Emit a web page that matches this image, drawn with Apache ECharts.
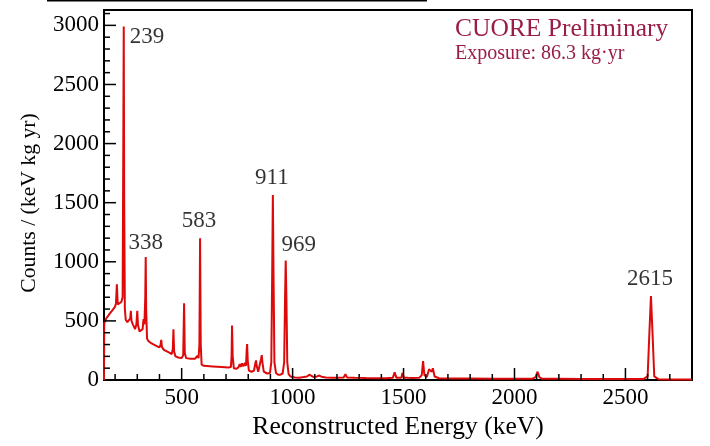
<!DOCTYPE html>
<html>
<head>
<meta charset="utf-8">
<script src="https://cdn.jsdelivr.net/npm/echarts@6/dist/echarts.min.js"></script>
<style>
  html, body { margin: 0; padding: 0; background: #ffffff; }
  #chart { width: 710px; height: 446px; background: #ffffff; }
</style>
</head>
<body>
<div id="chart"></div>
<script>
// Calibrated background spectrum: reconstructed energy (keV) and rate (counts / keV kg yr)
const energy = [
  150, 151, 160, 175, 190, 200, 204, 208, 212, 220, 228, 234, 237, 239, 241, 244, 248, 255, 262, 268,
  271, 274, 280, 290, 296, 300, 303, 310, 318, 324, 328, 332, 336, 338, 340, 344, 350, 360, 375, 390,
  400, 405, 408, 411, 420, 440, 455, 460, 463, 466, 472, 485, 500, 507, 511, 514, 520, 540, 560, 568,
  572, 576, 580, 583, 586, 590, 600, 640, 680, 710, 722, 725, 727, 730, 735, 745, 755, 762, 766, 772,
  778, 785, 790, 793, 795, 798, 803, 815, 826, 832, 835, 838, 845, 853, 858, 861, 864, 870, 885, 898,
  904, 908, 911, 914, 918, 925, 935, 945, 955, 962, 966, 969, 972, 976, 982, 990, 1000, 1010, 1030, 1050,
  1065, 1075, 1080, 1095, 1110, 1120, 1130, 1150, 1180, 1200, 1230, 1238, 1245, 1280, 1330, 1380, 1420, 1452, 1460, 1468,
  1490, 1495, 1502, 1520, 1540, 1570, 1582, 1588, 1594, 1605, 1615, 1621, 1627, 1632, 1640, 1660, 1700, 1800, 1900, 2000,
  2080, 2095, 2104, 2112, 2125, 2200, 2300, 2400, 2500, 2580, 2600, 2608, 2615, 2622, 2630, 2650, 2700, 2800
];
const counts = [
  0, 480, 520, 560, 595, 620, 650, 810, 640, 640, 660, 700, 2000, 2990, 1500, 600, 510, 490, 480, 520,
  585, 500, 470, 430, 470, 585, 470, 410, 400, 430, 515, 470, 700, 1040, 600, 350, 330, 315, 300, 285,
  275, 300, 340, 280, 255, 235, 220, 260, 430, 240, 200, 190, 185, 210, 650, 230, 185, 180, 180, 190,
  205, 185, 300, 1200, 300, 130, 120, 115, 110, 105, 110, 200, 460, 200, 100, 95, 105, 135, 110, 140,
  115, 145, 120, 250, 305, 160, 80, 70, 80, 140, 165, 120, 70, 85, 180, 210, 150, 70, 55, 60,
  150, 900, 1565, 900, 150, 60, 45, 45, 55, 150, 700, 1010, 700, 150, 50, 30, 25, 22, 20, 25,
  30, 45, 35, 25, 30, 38, 28, 22, 20, 20, 22, 48, 22, 18, 16, 15, 15, 20, 65, 18,
  18, 60, 20, 18, 16, 18, 40, 160, 40, 25, 90, 105, 70, 100, 30, 15, 12, 12, 11, 10,
  10, 25, 70, 25, 10, 10, 9, 9, 8, 8, 30, 400, 710, 400, 30, 6, 5, 5
];
// Labelled gamma lines (keV)
const peakLabels = [239, 338, 583, 911, 969, 2615];

const serif = '"Liberation Serif", "DejaVu Serif", serif';
const lineColor = '#dc0a0a';
const xMin = 150, xMax = 2800, yMin = 0, yMax = 3130;
const xMajorStep = 500, xMinorStep = 100, yMajorStep = 500, yMinorStep = 100;

const spectrum = energy.map((e, i) => [e, counts[i]]);

// Where each peak label sits relative to its peak top
const labelPlacement = {
  239: { position: 'right', distance: 6, offset: [0, 10] },
  338: { position: 'top', distance: 3, offset: [0, 0] },
  583: { position: 'top', distance: 6, offset: [-1, 0] },
  911: { position: 'top', distance: 6, offset: [-1, 0] },
  969: { position: 'top', distance: 4, offset: [13, 0] },
  2615: { position: 'top', distance: 6, offset: [-1, 0] }
};

const peakPoints = peakLabels.map(p => {
  const i = energy.indexOf(p);
  const place = labelPlacement[p];
  return {
    value: [energy[i], counts[i]],
    label: {
      show: true,
      position: place.position,
      distance: place.distance,
      offset: place.offset,
      formatter: String(p)
    }
  };
});

// Inward tick marks along the bottom and left frame, major and minor.
// Each item: [x, y, kind] with kind 0 = x major, 1 = x minor, 2 = y major, 3 = y minor.
const frameTicks = [];
for (let v = Math.ceil(xMin / xMinorStep) * xMinorStep; v < xMax; v += xMinorStep) {
  if (v === xMin) continue;
  frameTicks.push([v, yMin, v % xMajorStep === 0 ? 0 : 1]);
}
for (let v = yMinorStep; v < yMax; v += yMinorStep) {
  frameTicks.push([xMin, v, v % yMajorStep === 0 ? 2 : 3]);
}

const tickFont = { color: '#000', fontFamily: serif, fontSize: 23 };

const chart = echarts.init(document.getElementById('chart'));
chart.setOption({
  animation: false,
  title: {
    text: 'CUORE Preliminary',
    subtext: 'Exposure: 86.3 kg\u00b7yr',
    left: 450,
    top: 11,
    itemGap: 2,
    textStyle: { fontFamily: serif, fontSize: 25.5, fontWeight: 'normal', color: '#9b1d47' },
    subtextStyle: { fontFamily: serif, fontSize: 20, color: '#9b1d47' }
  },
  grid: {
    left: 104, right: 18, top: 10, bottom: 66,
    show: true, borderColor: '#000', borderWidth: 2
  },
  graphic: [{
    type: 'line',
    shape: { x1: 47, y1: 0.5, x2: 427, y2: 0.5 },
    style: { stroke: '#000', lineWidth: 2 }
  }],
  xAxis: {
    type: 'value',
    min: xMin, max: xMax, minInterval: xMajorStep, maxInterval: xMajorStep,
    position: 'bottom',
    splitLine: { show: false },
    axisLine: { show: true, lineStyle: { color: '#000', width: 2 } },
    axisTick: { show: false },
    name: 'Reconstructed Energy (keV)',
    nameLocation: 'middle', nameGap: 29,
    nameTextStyle: { fontFamily: serif, fontSize: 25.5, color: '#000' },
    axisLabel: Object.assign({
      margin: 6, showMinLabel: false, showMaxLabel: false,
      formatter: v => String(v)
    }, tickFont)
  },
  yAxis: {
    type: 'value',
    min: yMin, max: yMax, minInterval: yMajorStep, maxInterval: yMajorStep,
    position: 'left',
    splitLine: { show: false },
    axisLine: { show: true, lineStyle: { color: '#000', width: 2 } },
    axisTick: { show: false },
    name: 'Counts / (keV kg yr)',
    nameLocation: 'middle', nameGap: 64,
    nameTextStyle: { fontFamily: serif, fontSize: 21.7, color: '#000', padding: [0, 16, 0, 0] },
    axisLabel: Object.assign({
      margin: 5, showMinLabel: true, showMaxLabel: false,
      formatter: v => String(v)
    }, tickFont)
  },
  series: [
    {
      type: 'line',
      data: spectrum,
      showSymbol: false,
      lineStyle: { color: lineColor, width: 2 },
      itemStyle: { color: lineColor },
      z: 2
    },
    {
      type: 'scatter',
      data: peakPoints,
      symbolSize: 0,
      itemStyle: { color: 'transparent' },
      label: { color: '#000', fontFamily: serif, fontSize: 23 },
      z: 3
    },
    {
      type: 'custom',
      data: frameTicks,
      clip: false,
      silent: true,
      z: 4,
      renderItem: (params, api) => {
        const p = api.coord([api.value(0), api.value(1)]);
        const kind = api.value(2);
        const len = (kind === 0 || kind === 2) ? 12 : 6;
        const shape = kind < 2
          ? { x1: p[0], y1: p[1], x2: p[0], y2: p[1] - len }
          : { x1: p[0], y1: p[1], x2: p[0] + len, y2: p[1] };
        return { type: 'line', shape: shape, style: { stroke: '#000', lineWidth: 1.5 } };
      }
    }
  ]
});
</script>
</body>
</html>
